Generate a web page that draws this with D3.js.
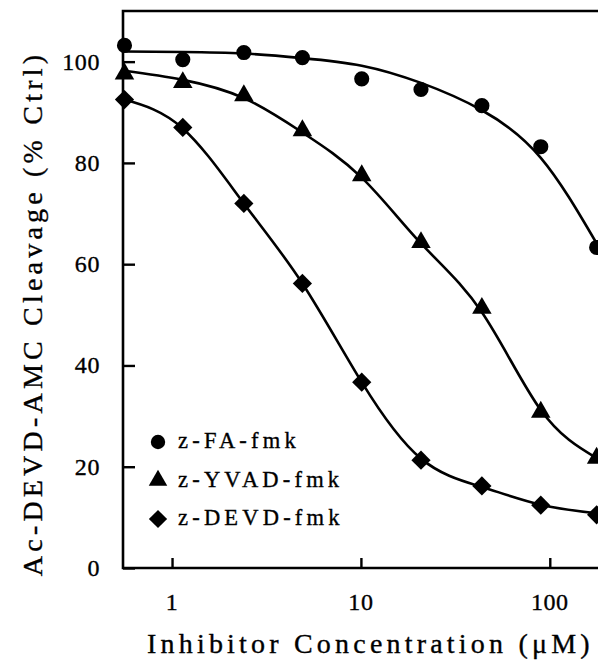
<!DOCTYPE html>
<html>
<head>
<meta charset="utf-8">
<script src="https://cdn.jsdelivr.net/npm/d3@7"></script>
<style>
    body { margin: 0; background: #fff; }
    #chart { width: 598px; height: 662px; }
    text { font-family: "Liberation Serif", "Times New Roman", serif; fill: #000; stroke: #000; stroke-width: 0.35; }
</style>
</head>
<body>
<div id="chart"></div>
<script>

// inhibitor concentrations (uM) of the measured points
const concentrations = [0.56, 1.14, 2.4, 4.9, 10.1, 20.8, 43.7, 89.6, 177];

// Ac-DEVD-AMC cleavage, % of control
const faFmk = [103.2, 100.4, 101.8, 100.8, 96.6, 94.5, 91.3, 83.2, 63.3];
const yvadFmk = [97.6, 95.9, 93.3, 86.4, 77.5, 64.3, 51.3, 30.8, 21.7];
const devdFmk = [92.5, 87.0, 72.0, 56.2, 36.7, 21.3, 16.2, 12.4, 10.5];

// fitted curves
const fitConcFA = [0.56, 1.14, 2.4, 4.9, 10.1, 20.8, 43.7, 89.6, 177];
const fitFA = [102.0, 101.9, 101.6, 100.7, 99.2, 95.8, 90.4, 81.0, 64.1];
const fitConc = [0.56, 1.14, 2.4, 4.9, 10.1, 20.8, 43.7, 89.6, 177];
const fitYVAD = [98.2, 96.4, 92.8, 86.0, 77.1, 64.1, 50.5, 31.2, 21.7];
const fitDEVD = [92.5, 86.8, 72.0, 56.2, 36.7, 21.6, 16.0, 12.5, 10.8];

const seriesNames = ["z-FA-fmk", "z-YVAD-fmk", "z-DEVD-fmk"];
const xTicks = [1, 10, 100];
const yTicks = [0, 20, 40, 60, 80, 100];

class doseChart {

    constructor(opts) {
        this.element = opts.element;
        this.update();
    }

    _setDimensions() {
        this.width = 598;
        this.height = 662;
        this.margin = { top: 11, right: 0, bottom: 94, left: 123 };
    }

    _setScales() {
        this.xScale = d3.scaleLog()
            .domain([0.55, 180])
            .range([this.margin.left, this.width - this.margin.right]);

        this.yScale = d3.scaleLinear()
            .domain([0, 110])
            .range([this.height - this.margin.bottom, this.margin.top]);

        this.symbols = [
            { type: d3.symbolCircle, size: 180, rotate: 0 },
            { type: d3.symbolTriangle, size: 165, rotate: 0 },
            { type: d3.symbolSquare, size: 185, rotate: 45 }
        ];
    }

    update() {
        this._setDimensions();
        this._setScales();
        this.draw();
    }

    draw() {
        this.element.innerHTML = "";

        this.svg = d3.select(this.element).append("svg")
            .attr("width", this.width)
            .attr("height", this.height);

        let x0 = this.xScale.range()[0],
            x1 = this.xScale.range()[1] + 5,
            y0 = this.yScale.range()[0],
            y1 = this.yScale.range()[1];

        // frame (left, top, bottom; right side runs off the page)
        this.svg.append("path")
            .attr("d", `M${x1},${y1}H${x0}V${y0}H${x1}`)
            .attr("fill", "none")
            .attr("stroke", "#000")
            .attr("stroke-width", 2.6);

        // y ticks, pointing inward
        let yAxis = d3.axisRight(this.yScale)
            .tickValues(yTicks)
            .tickSize(12)
            .tickFormat("");

        let gy = this.svg.append("g")
            .attr("transform", `translate(${x0},0)`)
            .call(yAxis);
        gy.select(".domain").remove();
        gy.selectAll(".tick line").attr("stroke-width", 2.4);

        this.svg.selectAll(".ylab")
            .data(yTicks)
            .enter().append("text")
            .attr("class", "ylab")
            .attr("x", 100)
            .attr("y", d => this.yScale(d) + 8)
            .attr("text-anchor", "end")
            .attr("font-size", 24)
            .attr("letter-spacing", 0.6)
            .text(d => d);

        // x ticks, pointing inward
        let xAxis = d3.axisTop(this.xScale)
            .tickValues(xTicks)
            .tickSize(10)
            .tickFormat("");

        let gx = this.svg.append("g")
            .attr("transform", `translate(0,${y0})`)
            .call(xAxis);
        gx.select(".domain").remove();
        gx.selectAll(".tick line").attr("stroke-width", 2.4);

        this.svg.selectAll(".xlab")
            .data(xTicks)
            .enter().append("text")
            .attr("class", "xlab")
            .attr("x", d => this.xScale(d))
            .attr("y", 610)
            .attr("text-anchor", "middle")
            .attr("font-size", 24)
            .attr("letter-spacing", 0.6)
            .text(d => d);

        // axis titles
        this.svg.append("text")
            .attr("x", 147)
            .attr("y", 653)
            .attr("font-size", 28)
            .attr("letter-spacing", 4.2)
            .text("Inhibitor Concentration (\u03BCM)");

        this.svg.append("text")
            .attr("transform", `translate(42,${(y0 + y1) / 2 + 24}) rotate(-90)`)
            .attr("text-anchor", "middle")
            .attr("font-size", 28)
            .attr("letter-spacing", 4.2)
            .text("Ac-DEVD-AMC Cleavage (% Ctrl)");

        // fitted curves
        let line = d3.line()
            .x(d => this.xScale(d[0]))
            .y(d => this.yScale(d[1]))
            .curve(d3.curveNatural);

        let curves = [
            d3.zip(fitConcFA, fitFA),
            d3.zip(fitConc, fitYVAD),
            d3.zip(fitConc, fitDEVD)
        ];

        this.svg.selectAll(".fit")
            .data(curves)
            .enter().append("path")
            .attr("class", "fit")
            .attr("d", line)
            .attr("fill", "none")
            .attr("stroke", "#000")
            .attr("stroke-width", 2.6);

        // measured points
        let series = [faFmk, yvadFmk, devdFmk];

        series.forEach((vals, i) => {
            let sym = this.symbols[i];
            this.svg.append("g")
                .selectAll("path")
                .data(d3.zip(concentrations, vals))
                .enter().append("path")
                .attr("transform", d => `translate(${this.xScale(d[0])},${this.yScale(d[1])}) rotate(${sym.rotate})`)
                .attr("d", d3.symbol().type(sym.type).size(sym.size))
                .attr("fill", "#000");
        });

        // legend
        let legend = this.svg.append("g")
            .attr("transform", "translate(158,442)");

        let item = legend.selectAll("g")
            .data(seriesNames)
            .enter().append("g")
            .attr("transform", (d, i) => `translate(0,${i * 38.5})`);

        item.append("path")
            .attr("transform", (d, i) => `rotate(${this.symbols[i].rotate})`)
            .attr("d", (d, i) => d3.symbol().type(this.symbols[i].type).size(this.symbols[i].size * 0.9)())
            .attr("fill", "#000");

        item.append("text")
            .attr("x", 20)
            .attr("y", 6)
            .attr("font-size", 22.5)
            .attr("letter-spacing", 4.2)
            .text(d => d);
    }
}

new doseChart({ element: document.getElementById("chart") });

</script>
</body>
</html>
